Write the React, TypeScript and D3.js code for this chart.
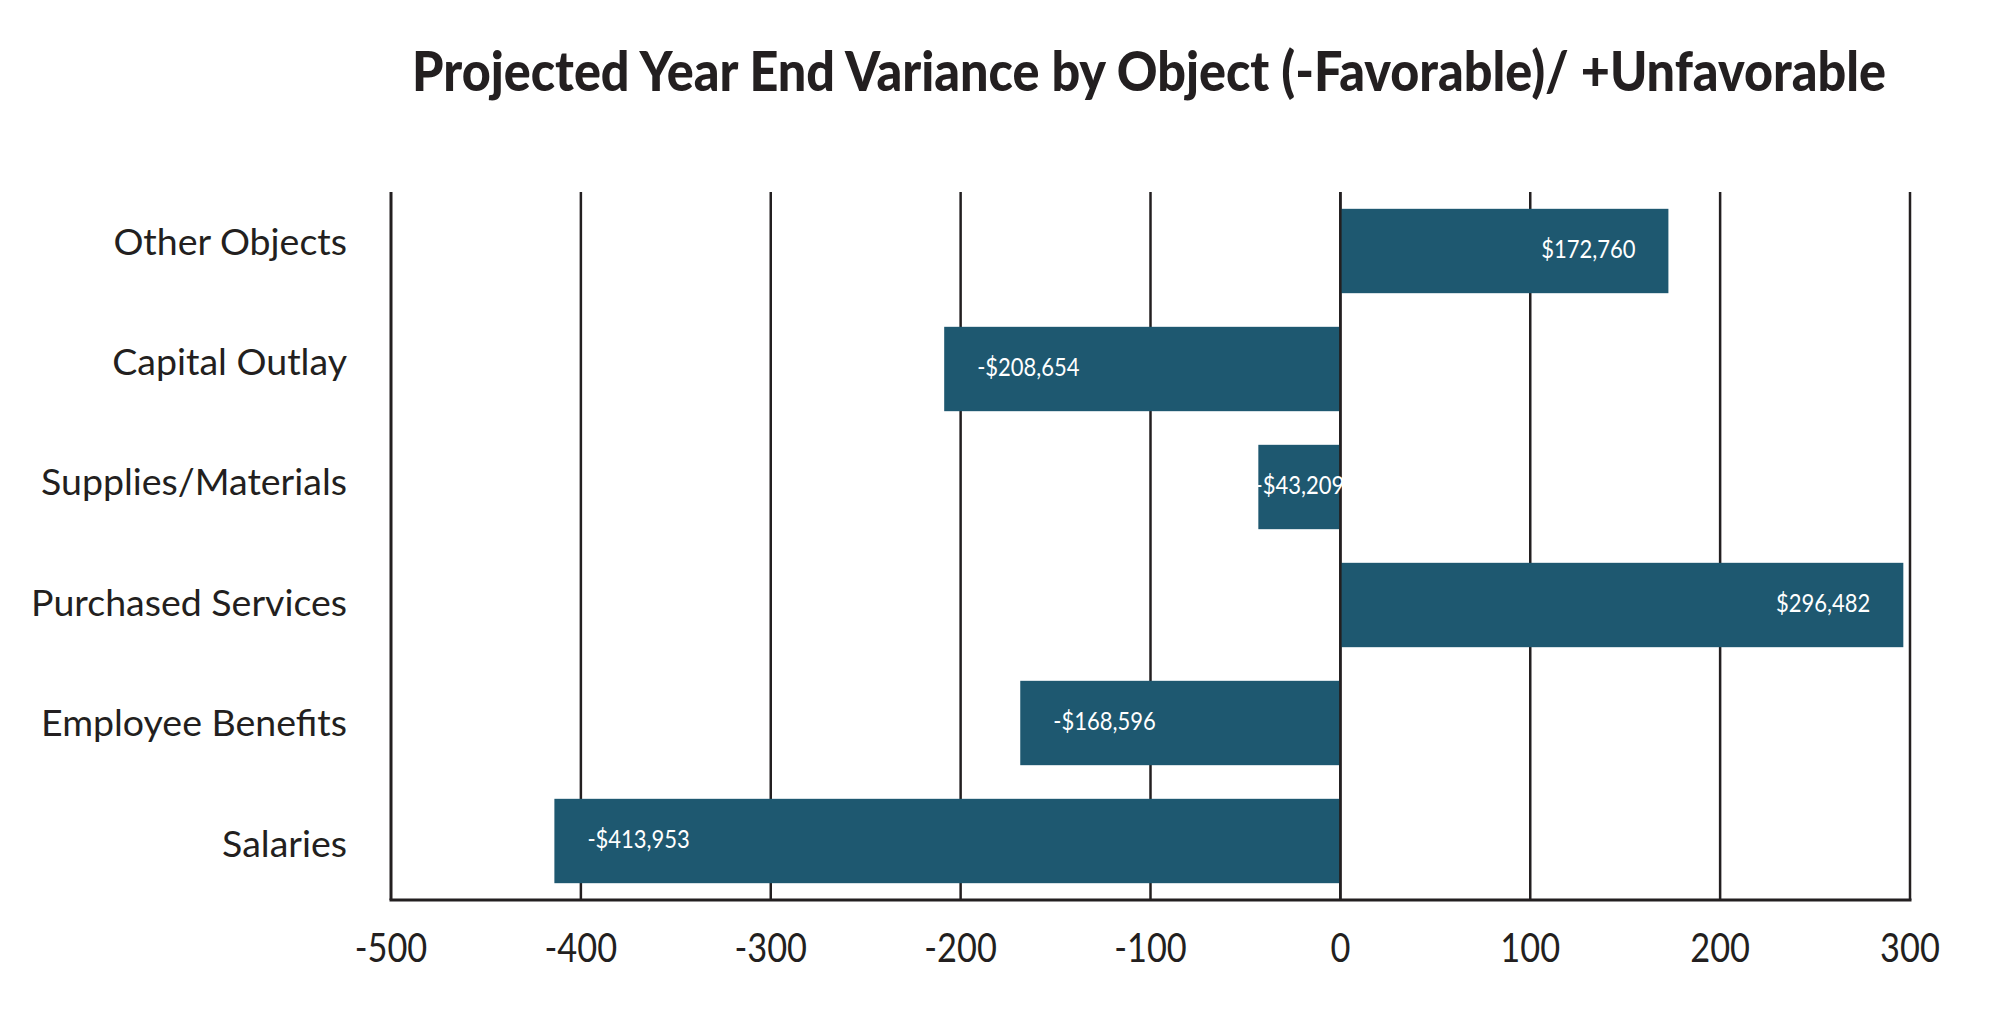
import React, { useEffect, useRef } from "react";
import * as d3 from "d3";

const categories = [
  "Other Objects",
  "Capital Outlay",
  "Supplies/Materials",
  "Purchased Services",
  "Employee Benefits",
  "Salaries",
];
const variances = [172760, -208654, -43209, 296482, -168596, -413953];
const xTicks = [-500, -400, -300, -200, -100, 0, 100, 200, 300];
const titleText = "Projected Year End Variance by Object (-Favorable)/ +Unfavorable";

const W = 2008;
const H = 1035;
const FONT = "Lato, 'Open Sans', sans-serif";
const INK = "#231f20";
const BAR = "#1e5870";

export default function App() {
  const ref = useRef<SVGSVGElement | null>(null);

  useEffect(() => {
    const svg = d3.select(ref.current);
    svg.selectAll("*").remove();

    const left = 391, right = 1910, top = 192, bottom = 900;
    const x = d3.scaleLinear().domain([-500, 300]).range([left, right]);
    const y = d3
      .scaleBand<string>()
      .domain(categories)
      .range([top, bottom])
      .paddingInner(0.285)
      .paddingOuter(0.1425);
    const yLab = d3.scalePoint<string>().domain(categories).range([241, 843]);

    const data = categories.map((c, i) => ({ c, v: variances[i] / 1000, raw: variances[i] }));

    // title (condensed via horizontal scale to target width)
    const tG = svg.append("g");
    const tText = tG
      .append("text")
      .attr("x", 0)
      .attr("y", 0)
      .attr("text-anchor", "middle")
      .attr("font-family", FONT)
      .attr("font-weight", 900)
      .attr("font-size", 55)
      .attr("fill", INK)
      .text(titleText);
    const natural = (tText.node() as SVGTextElement).getComputedTextLength() || 1750;
    const sx = Math.min(1, 1474 / natural);
    tG.attr("transform", `translate(1149,91) scale(${sx},1)`);

    // gridlines
    svg
      .append("g")
      .selectAll("line")
      .data(xTicks)
      .join("line")
      .attr("x1", (d) => x(d))
      .attr("x2", (d) => x(d))
      .attr("y1", top)
      .attr("y2", bottom)
      .attr("stroke", INK)
      .attr("stroke-width", (d) => (d === -500 ? 3 : 2.5));

    // bottom axis line
    svg
      .append("line")
      .attr("x1", left - 1.5)
      .attr("x2", right + 1.5)
      .attr("y1", bottom)
      .attr("y2", bottom)
      .attr("stroke", INK)
      .attr("stroke-width", 3);

    // bars
    svg
      .append("g")
      .selectAll("rect")
      .data(data)
      .join("rect")
      .attr("x", (d) => x(Math.min(0, d.v)))
      .attr("width", (d) => Math.abs(x(d.v) - x(0)))
      .attr("y", (d) => y(d.c)!)
      .attr("height", y.bandwidth())
      .attr("fill", BAR);

    // zero line over bars
    svg
      .append("line")
      .attr("x1", x(0))
      .attr("x2", x(0))
      .attr("y1", top)
      .attr("y2", bottom)
      .attr("stroke", INK)
      .attr("stroke-width", 2.5);

    // bar labels
    const fmt = (v: number) => (v < 0 ? "-$" : "$") + d3.format(",")(Math.abs(v));
    const gap = 33;
    const lab = svg.append("g");
    data.forEach((d) => {
      const x0 = x(Math.min(0, d.v));
      const x1 = x(Math.max(0, d.v));
      const width = x1 - x0;
      const estW = 92;
      let px: number, anchor: string;
      if (width < estW + gap) {
        px = (x0 + x1) / 2;
        anchor = "middle";
      } else if (d.v >= 0) {
        px = x1 - gap;
        anchor = "end";
      } else {
        px = x0 + gap;
        anchor = "start";
      }
      const cy = y(d.c)! + y.bandwidth() / 2;
      lab
        .append("g")
        .attr("transform", `translate(${px},${cy + 7}) scale(0.88,1)`)
        .append("text")
        .attr("text-anchor", anchor)
        .attr("font-family", FONT)
        .attr("font-size", 25)
        .attr("fill", "#ffffff")
        .text(fmt(d.raw));
    });

    // category labels
    svg
      .append("g")
      .selectAll("text")
      .data(categories)
      .join("text")
      .attr("x", 347)
      .attr("y", (d) => yLab(d)!)
      .attr("dy", "0.36em")
      .attr("text-anchor", "end")
      .attr("font-family", FONT)
      .attr("font-size", 37.5)
      .attr("fill", INK)
      .text((d) => d);

    // x tick labels
    const tg = svg.append("g");
    xTicks.forEach((t) => {
      tg.append("g")
        .attr("transform", `translate(${x(t)},962) scale(0.86,1)`)
        .append("text")
        .attr("text-anchor", "middle")
        .attr("font-family", FONT)
        .attr("font-size", 40)
        .attr("fill", INK)
        .text(String(t));
    });
  }, []);

  return (
    <svg
      ref={ref}
      width={W}
      height={H}
      style={{ position: "absolute", left: 0, top: 0, background: "#ffffff", display: "block" }}
    />
  );
}
